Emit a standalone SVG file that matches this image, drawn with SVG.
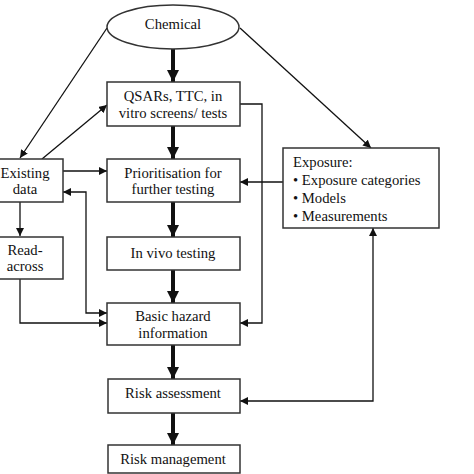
<svg xmlns="http://www.w3.org/2000/svg" width="474" height="474" viewBox="0 0 474 474">
<defs>
<marker id="a" viewBox="0 0 10 10" refX="10" refY="5" markerWidth="8" markerHeight="8" markerUnits="userSpaceOnUse" orient="auto-start-reverse"><path d="M0,0 L10,5 L0,10 z" fill="#111"/></marker>
<marker id="t" viewBox="0 0 10 10" refX="10" refY="5" markerWidth="12" markerHeight="12" markerUnits="userSpaceOnUse" orient="auto"><path d="M0,0 L10,5 L0,10 z" fill="#111"/></marker>
</defs>
<style>
.box{fill:#fff;stroke:#333;stroke-width:1.5}
.tx{font-family:"Liberation Serif","Times New Roman",serif;font-size:14.7px;fill:#111;text-anchor:middle}
.tl{font-family:"Liberation Serif","Times New Roman",serif;font-size:14.7px;fill:#111}
.c{fill:none;stroke:#111;stroke-width:1.3;marker-end:url(#a)}
.k{fill:none;stroke:#111;stroke-width:4;marker-end:url(#t)}
</style>
<rect width="474" height="474" fill="#fff"/>
<g id="connectors">
<line class="k" x1="173" y1="49" x2="173" y2="82"/>
<line class="k" x1="173" y1="126" x2="173" y2="159"/>
<line class="k" x1="173" y1="202" x2="173" y2="237"/>
<line class="k" x1="173" y1="270" x2="173" y2="303"/>
<line class="k" x1="173" y1="345" x2="173" y2="379"/>
<line class="k" x1="173" y1="413" x2="173" y2="445"/>
<line class="c" x1="107" y1="28" x2="20" y2="158"/>
<line class="c" x1="42" y1="159" x2="107" y2="105"/>
<line class="c" x1="240" y1="28" x2="371" y2="148"/>
<polyline class="c" points="240,104 262,104 262,323 240,323"/>
<line class="c" x1="63" y1="171" x2="107" y2="171"/>
<line class="c" x1="284" y1="182" x2="240" y2="182"/>
<line class="c" x1="20" y1="202" x2="20" y2="236"/>
<polyline class="c" points="20,279 20,323 107,323"/>
<polyline class="c" style="marker-start:url(#a)" points="107,313 86,313 86,192 63,192"/>
<polyline class="c" style="marker-start:url(#a)" points="240,401 373,401 373,228"/>
</g>
<g id="chemical"><ellipse class="box" cx="173" cy="27" rx="66" ry="22"/><text class="tx" x="173" y="29">Chemical</text></g>
<g id="qsars"><rect class="box" x="107" y="82" width="133" height="44"/><text class="tx" x="173" y="101">QSARs, TTC, in</text><text class="tx" x="173" y="118">vitro screens/ tests</text></g>
<g id="existing"><rect class="box" x="-2" y="159" width="65" height="43"/><text class="tx" x="25" y="178">Existing</text><text class="tx" x="25" y="194">data</text></g>
<g id="prioritisation"><rect class="box" x="107" y="159" width="133" height="43"/><text class="tx" x="173" y="178">Prioritisation for</text><text class="tx" x="173" y="194">further testing</text></g>
<g id="exposure"><rect class="box" x="283" y="148" width="156" height="80"/><text class="tl" x="293" y="167">Exposure:</text><text class="tl" x="293" y="185">• Exposure categories</text><text class="tl" x="293" y="203">• Models</text><text class="tl" x="293" y="221">• Measurements</text></g>
<g id="readacross"><rect class="box" x="-2" y="237" width="65" height="42"/><text class="tx" x="25" y="255">Read-</text><text class="tx" x="25" y="271">across</text></g>
<g id="invivo"><rect class="box" x="107" y="237" width="133" height="33"/><text class="tx" x="173" y="258">In vivo testing</text></g>
<g id="basic"><rect class="box" x="107" y="303" width="133" height="42"/><text class="tx" x="173" y="321">Basic hazard</text><text class="tx" x="173" y="338">information</text></g>
<g id="risk"><rect class="box" x="108" y="379" width="132" height="34"/><text class="tx" x="173" y="398">Risk assessment</text></g>
<g id="riskmgmt"><rect class="box" x="108" y="445" width="132" height="28"/><text class="tx" x="173" y="464">Risk management</text></g>
</svg>
